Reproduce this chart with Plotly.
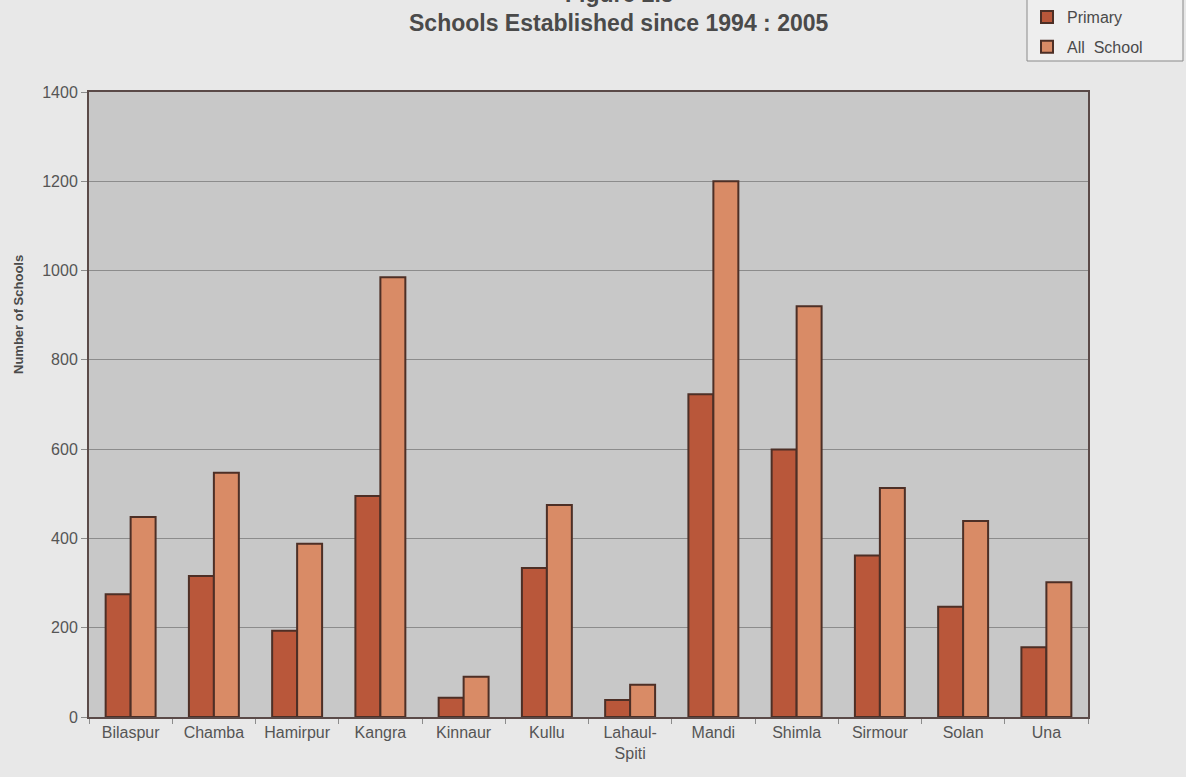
import plotly.graph_objects as go

districts = ["Bilaspur", "Chamba", "Hamirpur", "Kangra", "Kinnaur", "Kullu",
             "Lahaul-<br>Spiti", "Mandi", "Shimla", "Sirmour", "Solan", "Una"]
primary = [275, 316, 193, 495, 43, 334, 38, 723, 599, 362, 247, 156]
all_school = [448, 547, 388, 985, 90, 475, 72, 1200, 920, 513, 439, 302]
y_ticks = [0, 200, 400, 600, 800, 1000, 1200, 1400]
title_line1 = "Figure 2.5"
title_line2 = "Schools Established since 1994 : 2005"
y_title = "Number of Schools"

fig = go.Figure()
fig.add_trace(go.Bar(name="Primary", x=districts, y=primary, legendgroup="p",
                     marker=dict(color="#b9573a", line=dict(color="#4d2f26", width=2))))
fig.add_trace(go.Bar(name="All  School", x=districts, y=all_school, legendgroup="a",
                     marker=dict(color="#d98b66", line=dict(color="#4d2f26", width=2))))

def px_x(p):
    return (p - 89) / 999

def px_y(p):
    return (717 - p) / 625

fig.update_layout(
    width=1186, height=777,
    paper_bgcolor="#e8e8e8", plot_bgcolor="#c8c8c8",
    font=dict(family="Liberation Sans, Arial, sans-serif", color="#4a4a4a", size=16),
    barmode="group", bargap=0.4, bargroupgap=0,
    margin=dict(l=89, r=98, t=92, b=60, autoexpand=False),
    legend=dict(xref="container", yref="container", x=1027 / 1186, y=1.0,
                xanchor="left", yanchor="top",
                bgcolor="rgba(0,0,0,0)", borderwidth=0,
                traceorder="grouped", tracegroupgap=6,
                font=dict(size=16, color="#4a4a4a"), itemwidth=30),
    showlegend=True,
    shapes=[dict(type="rect", xref="paper", yref="paper",
                 x0=px_x(1027), x1=px_x(1183), y0=px_y(61), y1=px_y(-3),
                 fillcolor="#eeeeee", line=dict(color="#8a8a8a", width=1), layer="below")],
    annotations=[
        dict(text="<b>" + title_line1 + "</b>", xref="paper", yref="paper",
             x=px_x(619), y=px_y(-6), xanchor="center", yanchor="middle",
             showarrow=False, font=dict(size=23, color="#4a4a4a")),
        dict(text="<b>" + title_line2 + "</b>", xref="paper", yref="paper",
             x=px_x(619), y=px_y(23), xanchor="center", yanchor="middle",
             showarrow=False, font=dict(size=23, color="#4a4a4a")),
        dict(text="<b>" + y_title + "</b>", xref="paper", yref="paper",
             x=px_x(18), y=px_y(315), xanchor="center", yanchor="middle",
             textangle=-90, showarrow=False, font=dict(size=13, color="#4a4a4a")),
    ],
)
fig.update_yaxes(range=[0, 1400], tickvals=y_ticks, showgrid=True,
                 gridcolor="#8c8c8c", gridwidth=1,
                 showline=True, linecolor="#5a4a48", linewidth=2, mirror=True,
                 ticks="outside", ticklen=6, tickcolor="#8c8c8c",
                 tickfont=dict(size=16, color="#555555"),
                 zeroline=False)
fig.update_xaxes(showline=True, linecolor="#5a4a48", linewidth=2, mirror=True,
                 ticks="outside", tickson="boundaries", ticklen=5, tickcolor="#8c8c8c",
                 tickfont=dict(size=16, color="#555555"), tickangle=0)

fig.write_html("out.html", config={"displayModeBar": False},
               post_script="document.body.style.margin='0';")
